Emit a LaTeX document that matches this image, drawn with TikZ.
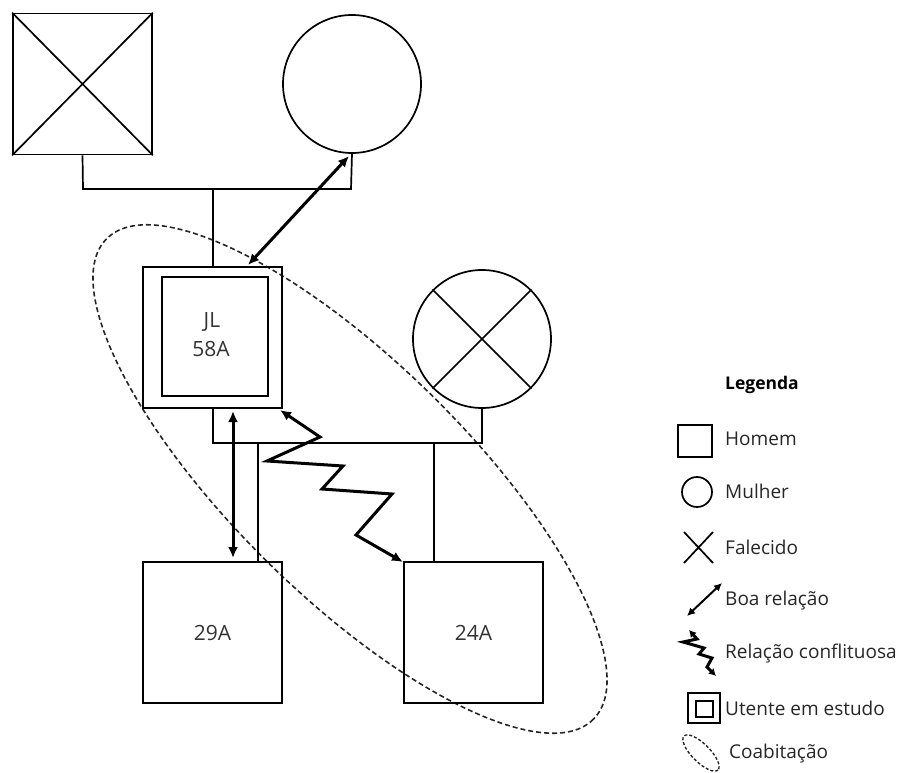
\documentclass[tikz,border=0pt]{standalone}
\usepackage{fontspec}
\setmainfont{Open Sans}
\usetikzlibrary{arrows.meta}
\begin{document}
\begin{tikzpicture}[x=1pt,y=-1pt,
  thin line/.style={line width=1.7pt},
  person/.style={draw, thin line, rectangle, minimum width=139pt, minimum height=141pt, inner sep=0pt, font=\fontsize{21}{25}\selectfont, text=black!80},
  female/.style={draw, thin line, circle, minimum size=138pt, inner sep=0pt},
  rel/.style={line width=3pt, {Latex[length=11pt,width=10pt]}-{Latex[length=11pt,width=10pt]}},
  relsmall/.style={line width=2pt, {Latex[length=8pt,width=8pt]}-{Latex[length=8pt,width=8pt]}},
  conflict/.style={line width=3pt, line join=miter, {Latex[length=11pt,width=10pt]}-{Latex[length=11pt,width=10pt]}},
  cohab/.style={dashed, dash pattern=on 5pt off 3pt, line width=1.6pt, draw=black!85},
  leg/.style={anchor=west, inner sep=0pt, font=\fontsize{19}{22}\selectfont, text=black!85},
  mainlbl/.style={font=\fontsize{21}{25}\selectfont, text=black!80, inner sep=0pt}
]
\useasboundingbox (0,0) rectangle (903,773);

% Cohabitation ellipse
\draw[cohab] (350,479) ellipse [x radius=342, y radius=117, rotate=-44.6];

% Grandparents
\node[person] (gf) at (82.5,84) {};
\draw[thin line] (gf.north west) -- (gf.south east) (gf.north east) -- (gf.south west);
\node[female] (gm) at (352,84) {};

% JL
\node[person] (jl) at (212.5,337.5) {};
\node[draw, thin line, minimum width=106pt, minimum height=119pt, inner sep=0pt] (jlin) at (215,336.5) {};
\node[mainlbl] (jltxt) at (212,322) {JL};
\node[mainlbl] (jlage) at (211,349) {58A};

% Deceased spouse
\node[female] (sp) at (482,339) {};
\draw[thin line] (sp.45) -- (sp.225) (sp.135) -- (sp.315);

% Children
\node[person] (c1) at (212.5,632.5) {29A};
\node[person] (c2) at (473.5,632.5) {24A};

% Family lines
\coordinate (m1l) at (83,189);
\coordinate (m1r) at (351,189);
\coordinate (m1d) at (213,189);
\draw[thin line] (gf.south) -- (m1l) -- (m1r) -- (gm.south);
\draw[thin line] (m1d) -- (jl.north -| m1d);

\coordinate (m2l) at (213,443);
\coordinate (m2r) at (482,443);
\draw[thin line] (jl.south -| m2l) -- (m2l) -- (m2r) -- (sp.south);
\coordinate (k1) at (258,443);
\coordinate (k2) at (434,443);
\draw[thin line] (k1) -- (c1.north -| k1);
\draw[thin line] (k2) -- (c2.north -| k2);

% Relations
\coordinate (b1) at (248,265);
\coordinate (b2) at (349,156);
\draw[rel] (b1) -- (b2);
\coordinate (v1) at (233,411);
\coordinate (v2) at (233,558);
\draw[rel] (v1) -- (v2);
\draw[conflict] (280,410) -- (320,437) -- (267,461) -- (343,466) -- (322,489) -- (392,494) -- (356,535) -- (403,562);

% Legend
\node[anchor=center, inner sep=0pt, font=\bfseries\fontsize{17.5}{21}\selectfont] (lt) at (762,385) {Legenda};
\node[draw, thin line, minimum width=34pt, minimum height=32pt, inner sep=0pt] (lh) at (695,441) {};
\node[leg] (lht) at (725,439) {Homem};
\node[draw, thin line, circle, minimum size=30pt, inner sep=0pt] (lm) at (697,492) {};
\node[leg] (lmt) at (725,491) {Mulher};
\coordinate (lx1) at (684,532);
\coordinate (lx2) at (713,563);
\draw[thin line] (lx1) -- (lx2) (lx1 |- lx2) -- (lx2 |- lx1);
\node[leg] (lxt) at (725,547) {Falecido};
\coordinate (lb1) at (687,616);
\coordinate (lb2) at (722,583);
\draw[relsmall] (lb1) -- (lb2);
\node[leg] (lbt) at (725,601) {Boa relação};
\draw[line width=3pt, line join=miter, {Latex[length=7pt,width=8pt]}-{Latex[length=7pt,width=8pt]}] (689,630) -- (697,639) -- (683,642) -- (704,648) -- (699,654) -- (712,658) -- (707,667) -- (716,676);
\node[leg] (lct) at (725,654) {Relação conflituosa};
\node[draw, thin line, minimum width=32pt, minimum height=30pt, inner sep=0pt] (lu) at (704,708) {};
\node[draw, thin line, minimum width=17pt, minimum height=16pt, inner sep=0pt] (lui) at (704.5,709) {};
\node[leg] (lut) at (725,708) {Utente em estudo};
\draw[cohab, line width=1.4pt, dash pattern=on 3pt off 2pt] (701,753) ellipse [x radius=24, y radius=9, rotate=-45];
\node[leg] (lcot) at (729,754) {Coabitação};
\end{tikzpicture}
\end{document}
